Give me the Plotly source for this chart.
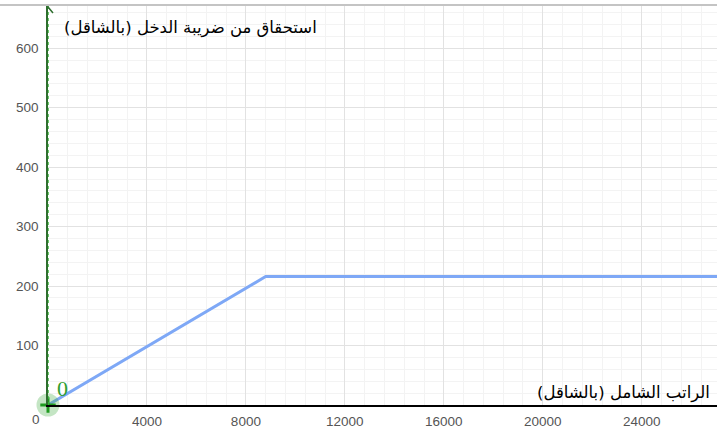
import plotly.graph_objects as go

# ---- data ----
salary = [0, 8800, 28000]          # gross salary (shekel)
tax_credit = [0, 216, 216]         # income tax entitlement (shekel)
x_tickvals = [4000, 8000, 12000, 16000, 20000, 24000]
x_ticktext = ["4000", "8000", "12000", "16000", "20000", "24000"]
y_tickvals = [100, 200, 300, 400, 500, 600]
y_ticktext = ["100", "200", "300", "400", "500", "600"]
x_title = "الراتب الشامل (بالشاقل)"
y_title = "استحقاق من ضريبة الدخل (بالشاقل)"

W, H = 717, 432
ML, MT, MB = 48, 5, 27
PW, PH = W - ML, H - MT - MB
XR = [0, 27045]
YR = [0, 672.8]

def px(xp):
    return (xp - ML) / PW

def py(yp):
    return (H - MB - yp) / PH

fig = go.Figure()
fig.add_trace(go.Scatter(x=salary, y=tax_credit, mode="lines",
                         line=dict(color="#7ea8f6", width=3),
                         hoverinfo="skip", showlegend=False))
# origin point
fig.add_trace(go.Scatter(x=[salary[0]], y=[tax_credit[0]], mode="markers",
                         marker=dict(size=23, color="rgba(60,170,60,0.3)"),
                         cliponaxis=False, showlegend=False, hoverinfo="skip"))
fig.add_trace(go.Scatter(x=[salary[0]], y=[tax_credit[0]], mode="markers",
                         marker=dict(symbol="cross-thin", size=11,
                                     line=dict(color="#1f9a1f", width=3)),
                         cliponaxis=False, showlegend=False, hoverinfo="skip"))

tickfont = dict(family="Liberation Sans, Arial", size=13.5, color="#555555")
fig.update_layout(
    width=W, height=H,
    margin=dict(l=ML, r=0, t=MT, b=MB),
    paper_bgcolor="white", plot_bgcolor="white",
    xaxis=dict(range=XR, tickmode="array", tickvals=x_tickvals, ticktext=x_ticktext,
               showgrid=True, gridcolor="#e2e2e2", gridwidth=1, zeroline=False,
               showline=True, linecolor="black", linewidth=1.5,
               ticks="outside", ticklen=3, tickcolor="rgba(0,0,0,0)",
               tickfont=tickfont,
               minor=dict(tick0=0, dtick=800, showgrid=True, gridcolor="#f3f3f3", gridwidth=1)),
    yaxis=dict(range=YR, tickmode="array", tickvals=y_tickvals, ticktext=y_ticktext,
               showgrid=True, gridcolor="#e2e2e2", gridwidth=1, zeroline=False,
               showline=True, linecolor="#2e6e2e", linewidth=1.5,
               ticks="outside", ticklen=5, tickcolor="rgba(0,0,0,0)",
               tickfont=tickfont,
               minor=dict(tick0=0, dtick=20, showgrid=True, gridcolor="#f3f3f3", gridwidth=1)),
    shapes=[
        # white boxes behind axis titles
        dict(type="rect", xref="paper", yref="paper", x0=px(50), x1=px(318), y0=py(50), y1=1,
             fillcolor="white", line=dict(width=0), layer="between"),
        dict(type="rect", xref="paper", yref="paper", x0=px(533), x1=1, y0=py(380), y1=py(404),
             fillcolor="white", line=dict(width=0), layer="between"),
        # top border line
        dict(type="line", xref="paper", yref="paper", x0=px(0), x1=1, y0=1, y1=1,
             line=dict(color="#c4c4c4", width=2), layer="above"),
        # dotted green overlay on y-axis
        dict(type="line", xref="x", yref="paper", x0=0, x1=0, y0=0, y1=1,
             line=dict(color="#3cbf3c", width=1.5, dash="dot"), layer="above"),
        # arrow head on y-axis
        dict(type="path", xref="x", yref="paper", xsizemode="pixel", ysizemode="pixel",
             xanchor=0, yanchor=1, path="M -5,-8 L 0,-2 L 5,-8",
             line=dict(color="#2e6e2e", width=1.5), layer="above"),
    ],
    annotations=[
        dict(text=y_title, xref="paper", yref="paper", x=px(62), y=py(28),
             xanchor="left", yanchor="middle", showarrow=False,
             font=dict(family="DejaVu Sans", size=16.5, color="black")),
        dict(text=x_title, xref="paper", yref="paper", x=px(712), y=py(393),
             xanchor="right", yanchor="middle", showarrow=False,
             font=dict(family="DejaVu Sans", size=16.5, color="black")),
        dict(text="0", xref="x", yref="paper", x=0, y=0, xshift=-12, yshift=-5,
             xanchor="center", yanchor="top", showarrow=False, font=tickfont),
        dict(text="0", xref="x", yref="y", x=0, y=0, xshift=7, yshift=2,
             xanchor="left", yanchor="bottom", showarrow=False,
             font=dict(family="Liberation Serif, Times New Roman", size=22, color="#2f9e2f")),
    ],
)

fig.write_html("out.html", config={"displayModeBar": False},
               post_script="document.body.style.margin='0px';")
